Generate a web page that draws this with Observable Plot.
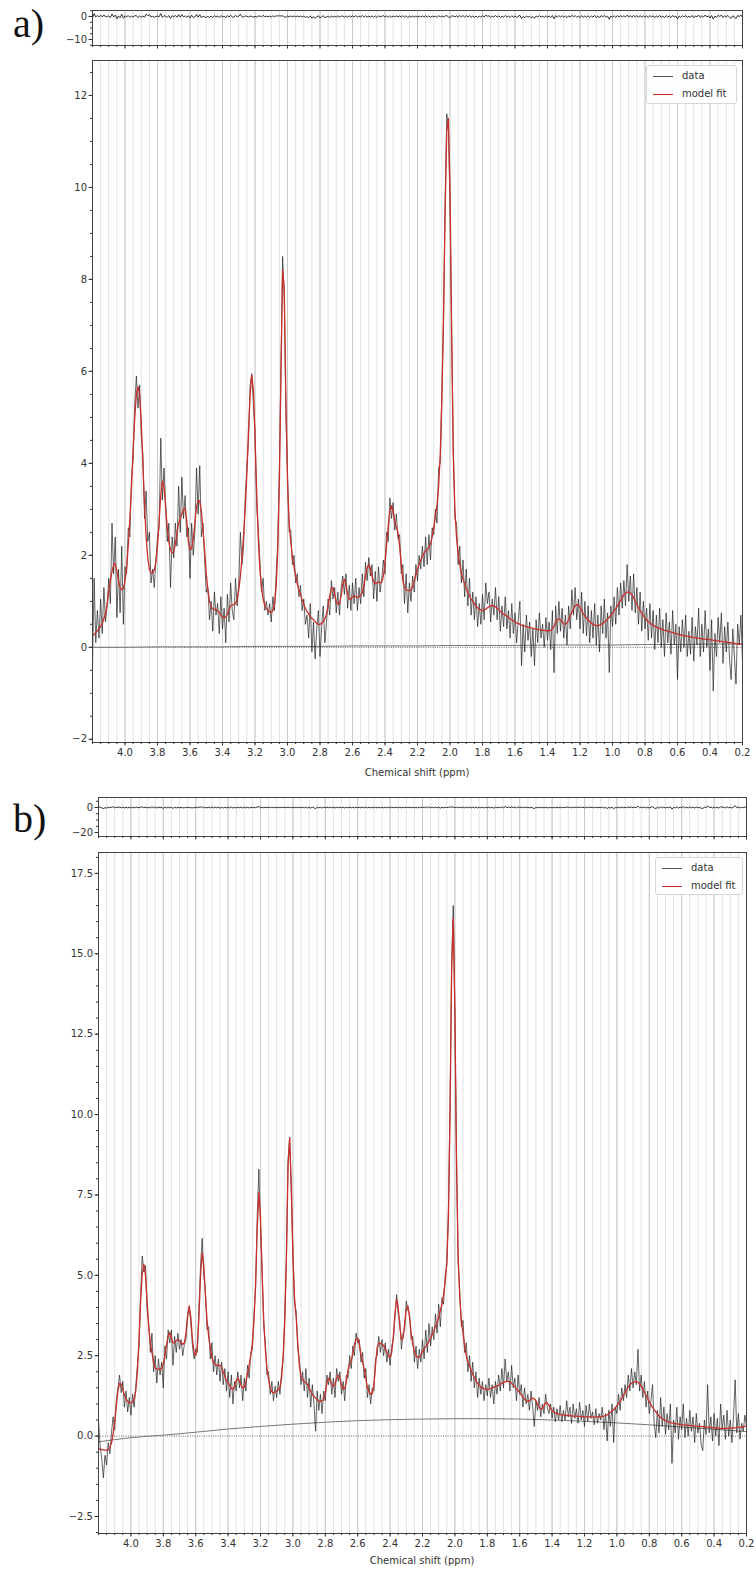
<!DOCTYPE html>
<html><head><meta charset="utf-8">
<script src="https://cdn.jsdelivr.net/npm/d3@7"></script>
<script src="https://cdn.jsdelivr.net/npm/@observablehq/plot@0.6"></script>
<style>
body{margin:0;background:#fff;}
#root{position:relative;width:756px;height:1569px;overflow:hidden;font-family:"DejaVu Sans",sans-serif;background:#fff;}
.abs{position:absolute;}
.plabel{font-family:"Liberation Serif","Times New Roman",serif;font-size:40px;line-height:40px;color:#111;}
.xtitle{font-size:10px;line-height:14px;color:#333;text-align:center;width:300px;}
.legend{box-sizing:border-box;border:1px solid #d6d6d6;border-radius:3px;background:rgba(255,255,255,0.9);font-size:10px;color:#333;}
.legend .ln{position:absolute;height:0;width:20px;}
.legend .tx{position:absolute;line-height:12px;}
</style></head>
<body><div id="root"></div>
<script>
// ---- grids (ppm axis, 4.20 -> 0.20) ----
const ppm = d3.range(401).map(i => (420 - i) / 100);
const basePpm = d3.range(21).map(i => (420 - i * 20) / 100);
const xMajor = [4.0,3.8,3.6,3.4,3.2,3.0,2.8,2.6,2.4,2.2,2.0,1.8,1.6,1.4,1.2,1.0,0.8,0.6,0.4,0.2];
const xMinor = d3.range(81).map(i => (420 - i * 5) / 100);

// ---- panel a ----
const fitA = [
0.25,0.28,0.32,0.36,0.40,0.45,0.52,0.62,0.75,0.95,
1.20,1.45,1.65,1.80,1.82,1.65,1.45,1.30,1.25,1.28,
1.45,1.75,2.20,2.80,3.50,4.30,5.00,5.50,5.67,5.50,
4.90,4.00,3.10,2.40,1.95,1.70,1.62,1.62,1.68,1.85,
2.20,2.75,3.30,3.62,3.50,3.05,2.60,2.30,2.12,2.05,
2.08,2.25,2.50,2.70,2.80,2.90,3.00,3.02,2.75,2.30,
2.12,2.15,2.35,2.70,3.05,3.20,3.18,2.95,2.55,2.10,
1.60,1.25,1.00,0.88,0.84,0.82,0.82,0.80,0.76,0.70,
0.66,0.64,0.66,0.72,0.82,0.90,0.92,0.93,0.95,1.05,
1.25,1.55,1.95,2.45,3.05,3.80,4.70,5.50,5.92,5.60,
4.60,3.40,2.40,1.70,1.30,1.05,0.92,0.84,0.80,0.77,
0.76,0.80,0.95,1.30,2.10,3.60,6.00,8.20,7.80,5.40,
3.60,2.70,2.30,1.95,1.75,1.55,1.38,1.25,1.15,1.03,
0.93,0.85,0.78,0.72,0.67,0.63,0.60,0.56,0.52,0.50,
0.50,0.52,0.56,0.62,0.72,0.90,1.12,1.28,1.30,1.15,
1.00,0.93,0.95,1.12,1.38,1.48,1.35,1.15,1.05,1.05,
1.10,1.12,1.10,1.08,1.10,1.13,1.18,1.35,1.55,1.72,
1.80,1.72,1.55,1.42,1.38,1.40,1.42,1.40,1.42,1.55,
1.85,2.25,2.65,2.95,3.08,2.95,2.75,2.60,2.50,2.20,
1.80,1.45,1.30,1.25,1.24,1.23,1.25,1.32,1.45,1.58,
1.70,1.80,1.90,1.98,2.05,2.10,2.13,2.17,2.25,2.40,
2.60,2.85,3.10,3.50,4.20,5.40,7.20,9.50,11.20,11.50,
10.00,6.80,4.20,3.00,2.40,2.05,1.80,1.62,1.48,1.38,
1.28,1.20,1.12,1.05,1.00,0.95,0.90,0.86,0.83,0.81,
0.80,0.81,0.83,0.86,0.88,0.90,0.91,0.90,0.88,0.85,
0.82,0.78,0.74,0.72,0.70,0.68,0.65,0.62,0.60,0.57,
0.55,0.53,0.52,0.50,0.48,0.47,0.46,0.45,0.44,0.43,
0.42,0.41,0.40,0.40,0.39,0.38,0.38,0.37,0.37,0.36,
0.36,0.36,0.37,0.40,0.46,0.54,0.60,0.62,0.60,0.55,
0.51,0.50,0.53,0.60,0.68,0.76,0.84,0.90,0.93,0.92,
0.87,0.80,0.73,0.68,0.64,0.60,0.56,0.52,0.50,0.48,
0.47,0.47,0.48,0.50,0.52,0.55,0.58,0.62,0.66,0.70,
0.74,0.79,0.84,0.90,0.96,1.02,1.08,1.14,1.18,1.20,
1.20,1.18,1.14,1.08,1.00,0.93,0.86,0.80,0.74,0.69,
0.64,0.60,0.56,0.53,0.50,0.48,0.46,0.44,0.42,0.41,
0.40,0.38,0.37,0.36,0.35,0.34,0.33,0.32,0.31,0.30,
0.29,0.28,0.27,0.26,0.25,0.25,0.24,0.23,0.23,0.22,
0.21,0.21,0.20,0.20,0.19,0.19,0.18,0.18,0.17,0.17,
0.16,0.16,0.15,0.15,0.14,0.14,0.13,0.13,0.12,0.12,
0.11,0.11,0.10,0.10,0.09,0.09,0.08,0.08,0.07,0.07,
0.06];
const dataA = [
-0.40,1.50,0.10,0.80,0.20,1.05,0.30,1.30,0.55,0.90,
1.50,0.95,2.70,1.60,2.40,0.65,1.70,0.75,2.20,0.50,
1.75,1.60,2.60,2.40,3.70,4.10,5.30,5.90,5.20,5.70,
4.60,4.20,2.80,3.40,2.30,2.50,1.40,1.70,1.30,1.90,
2.40,2.60,4.55,3.20,3.90,3.10,2.30,2.70,1.30,2.40,
1.95,2.70,2.20,3.50,2.50,3.70,2.80,3.30,2.40,2.60,
1.50,2.70,2.00,2.50,3.90,2.90,3.95,2.40,2.70,1.90,
1.20,1.30,0.60,1.00,0.35,1.20,0.70,0.95,0.30,1.10,
0.40,0.85,0.10,1.15,0.55,1.40,0.80,0.60,1.50,0.90,
1.40,2.50,1.80,2.20,3.30,3.90,4.50,5.70,5.95,5.30,
4.70,3.10,2.60,1.90,1.20,1.50,0.80,1.00,0.70,0.95,
0.55,1.10,0.80,1.60,2.30,3.90,6.20,8.50,7.60,5.10,
3.80,2.50,2.55,1.80,2.00,1.40,1.60,1.10,1.35,0.80,
1.05,0.50,0.70,0.20,0.95,-0.10,0.55,-0.25,0.40,0.80,
-0.20,0.45,0.90,0.10,0.55,1.05,0.70,1.45,1.05,1.30,
0.75,1.20,0.70,1.30,1.55,1.15,1.60,0.85,1.35,0.80,
1.40,0.95,1.50,0.80,1.30,0.95,1.60,1.10,1.85,1.45,
1.95,1.55,1.80,1.05,1.65,1.00,1.75,1.20,1.50,1.90,
1.60,2.50,2.30,3.25,2.80,3.15,2.55,2.90,2.35,2.45,
1.60,1.80,0.95,1.60,0.75,1.40,1.00,1.55,1.20,1.80,
1.45,2.00,1.70,2.20,1.75,2.40,1.80,2.45,1.90,2.60,
2.45,3.00,2.70,3.90,4.00,5.60,7.00,9.70,11.60,11.30,
9.60,7.00,4.40,2.80,2.70,1.80,2.20,1.40,1.90,1.10,
1.70,0.90,1.50,0.70,1.20,0.60,1.10,0.45,0.95,0.50,
1.15,0.60,1.40,0.95,1.20,0.55,1.05,0.70,1.30,0.60,
1.10,0.35,0.90,0.45,1.10,0.40,0.80,0.20,0.95,0.30,
0.75,0.10,0.60,1.00,-0.40,0.50,-0.10,0.70,0.15,0.55,
-0.20,0.40,-0.40,0.60,0.10,0.75,0.20,0.50,0.00,0.65,
0.15,0.55,-0.05,0.80,-0.55,0.90,0.30,1.00,0.35,0.85,
0.20,0.70,0.05,0.90,0.40,1.25,0.70,1.30,0.60,1.05,
0.40,1.20,0.30,1.00,0.25,0.90,0.10,0.80,0.20,0.95,
0.05,0.70,-0.10,0.90,0.30,1.05,0.20,0.75,-0.55,0.90,
0.45,1.10,0.50,1.30,0.70,1.40,0.85,1.45,0.90,1.80,
1.00,1.55,0.80,1.60,0.75,1.30,0.50,1.20,0.35,1.00,
0.40,0.85,0.15,0.95,0.20,0.80,-0.05,0.70,0.10,0.85,
0.00,0.60,-0.20,0.75,0.10,0.55,-0.15,0.80,0.05,0.50,
-0.70,0.45,-0.10,0.60,0.00,0.70,-0.20,0.35,-0.15,0.65,
-0.30,0.45,0.05,0.85,-0.20,0.50,-0.10,0.80,0.00,0.40,
-0.50,0.60,-0.95,0.30,-0.20,0.65,0.10,0.75,-0.35,0.45,
-0.10,0.55,-0.25,-0.70,0.40,-0.20,-0.80,0.50,0.05,0.70,
-0.30];
const baseA = [0.00,0.00,0.01,0.01,0.01,0.02,0.02,0.02,0.03,0.03,0.03,0.04,0.04,0.04,0.05,0.05,0.05,0.06,0.06,0.07,0.07];

// ---- panel b ----
const fitB = [
-0.40,-0.41,-0.42,-0.43,-0.44,-0.44,-0.42,-0.35,-0.22,0.05,
0.45,0.95,1.40,1.64,1.62,1.45,1.28,1.15,1.08,1.04,
1.03,1.06,1.15,1.40,2.00,3.00,4.20,5.05,5.35,5.00,
4.20,3.40,2.90,2.60,2.30,2.12,2.08,2.08,2.08,2.10,
2.25,2.50,2.85,3.12,3.22,3.05,2.90,2.90,2.98,3.00,
2.98,2.90,2.85,2.90,3.20,3.70,4.05,3.70,3.00,2.60,
2.50,2.80,3.70,5.00,5.70,5.30,4.40,3.60,3.10,2.75,
2.45,2.28,2.22,2.20,2.20,2.20,2.15,2.00,1.85,1.72,
1.65,1.58,1.48,1.45,1.55,1.72,1.80,1.72,1.58,1.50,
1.52,1.70,1.95,2.20,2.50,2.90,3.60,4.80,6.50,7.58,
6.80,5.00,3.60,2.70,2.10,1.75,1.50,1.38,1.34,1.36,
1.40,1.44,1.50,1.80,2.50,3.60,5.60,8.40,9.27,7.80,
5.60,4.30,3.70,2.90,2.20,1.86,1.75,1.70,1.66,1.60,
1.50,1.40,1.30,1.24,1.18,1.12,1.09,1.08,1.10,1.14,
1.35,1.65,1.80,1.75,1.60,1.54,1.62,1.80,1.90,1.80,
1.58,1.45,1.48,1.70,2.05,2.25,2.35,2.55,2.85,3.02,
3.05,2.85,2.55,2.30,2.10,1.80,1.50,1.38,1.30,1.32,
1.60,2.20,2.75,2.90,2.88,2.85,2.82,2.72,2.60,2.48,
2.45,2.60,3.10,3.80,4.26,4.00,3.40,3.00,3.05,3.50,
3.95,4.05,3.70,3.20,2.87,2.62,2.50,2.45,2.45,2.52,
2.62,2.72,2.78,2.85,2.95,3.05,3.15,3.27,3.40,3.55,
3.70,3.90,4.10,4.40,4.80,5.40,6.80,10.00,14.50,16.10,
13.20,8.50,5.60,4.30,3.60,3.20,2.80,2.50,2.30,2.20,
2.05,1.92,1.82,1.72,1.64,1.58,1.53,1.50,1.47,1.46,
1.45,1.46,1.48,1.50,1.52,1.54,1.56,1.58,1.61,1.64,
1.67,1.69,1.70,1.70,1.68,1.64,1.59,1.53,1.47,1.41,
1.35,1.28,1.21,1.15,1.10,1.08,1.10,1.15,1.18,1.16,
1.10,1.00,0.90,0.84,0.86,0.95,1.04,1.03,0.96,0.88,
0.80,0.75,0.72,0.70,0.68,0.67,0.66,0.65,0.65,0.64,
0.64,0.63,0.63,0.62,0.62,0.62,0.61,0.61,0.61,0.60,
0.60,0.60,0.60,0.60,0.60,0.60,0.60,0.60,0.60,0.60,
0.60,0.61,0.62,0.64,0.66,0.69,0.73,0.77,0.82,0.88,
0.95,1.02,1.09,1.17,1.26,1.35,1.44,1.52,1.59,1.64,
1.67,1.69,1.69,1.67,1.62,1.55,1.46,1.37,1.27,1.17,
1.07,0.98,0.89,0.82,0.75,0.69,0.63,0.58,0.54,0.51,
0.48,0.46,0.44,0.42,0.41,0.40,0.39,0.38,0.37,0.36,
0.35,0.35,0.34,0.34,0.33,0.33,0.32,0.32,0.31,0.31,
0.30,0.30,0.30,0.29,0.29,0.28,0.28,0.27,0.27,0.26,
0.26,0.25,0.25,0.25,0.24,0.24,0.24,0.24,0.24,0.24,
0.25,0.25,0.25,0.26,0.26,0.27,0.27,0.28,0.29,0.30,
0.32];
const dataB = [
0.50,-0.30,-0.70,-1.30,-0.60,-0.90,-0.20,-0.55,0.10,0.60,
0.20,1.10,1.50,1.90,1.35,1.70,0.90,1.40,0.75,1.20,
0.65,1.30,0.90,1.55,2.20,2.80,4.40,5.60,5.10,5.30,
3.90,3.50,2.60,3.20,2.00,2.50,1.65,2.40,1.90,2.30,
1.50,2.80,2.40,3.30,2.90,3.30,2.20,3.10,2.60,3.20,
2.70,3.00,2.50,2.85,3.00,3.80,4.00,3.50,2.80,2.40,
2.70,2.60,4.00,5.30,6.15,5.00,4.50,3.30,3.40,2.40,
2.90,2.00,2.50,1.90,2.40,1.70,2.30,1.60,2.10,1.40,
2.00,1.20,1.90,1.00,1.70,1.40,2.00,1.50,1.90,1.10,
1.80,1.40,2.20,1.80,2.60,2.70,3.80,4.60,6.90,8.30,
6.50,5.20,3.40,2.90,1.90,2.00,1.30,1.70,1.10,1.55,
1.20,1.70,1.30,2.00,2.40,3.80,5.40,8.60,9.30,7.60,
5.80,4.10,3.90,2.70,2.40,1.60,2.00,1.40,2.10,1.20,
1.80,0.90,1.60,1.00,0.15,1.40,0.80,1.30,0.70,1.40,
1.10,1.90,1.60,2.00,1.30,1.80,1.20,2.10,1.70,2.00,
1.30,1.70,1.10,1.90,1.80,2.50,2.10,2.80,2.50,3.20,
2.90,3.00,2.30,2.60,1.80,2.10,1.20,1.60,1.00,1.50,
1.40,2.40,2.50,3.10,2.60,3.00,2.50,2.90,2.30,2.70,
2.20,2.80,3.00,3.70,4.40,3.80,3.60,2.70,3.20,3.30,
4.20,3.90,3.80,3.00,3.10,2.30,2.80,2.10,2.70,2.30,
3.00,2.40,3.30,2.60,3.50,2.80,3.40,3.00,3.80,3.20,
4.10,3.40,4.30,4.10,5.00,5.30,7.00,10.40,14.80,16.50,
13.00,8.70,5.40,4.50,3.40,3.60,2.60,2.90,2.00,2.50,
1.70,2.30,1.50,2.00,1.20,1.80,1.30,1.70,1.10,1.60,
1.25,1.80,1.20,1.60,1.00,1.70,1.30,1.90,1.40,2.10,
1.50,2.40,1.70,2.00,1.40,2.20,1.50,1.80,1.10,1.90,
1.30,1.60,0.90,1.50,1.00,1.30,0.80,1.40,0.90,0.30,
1.10,0.80,1.20,0.60,1.00,0.70,1.30,0.90,0.70,1.00,
0.55,0.90,0.45,0.85,0.50,0.95,0.45,0.80,0.50,1.10,
0.60,0.90,0.40,1.00,0.55,0.85,0.40,1.05,0.50,0.80,
0.30,0.95,0.45,1.00,0.55,0.75,0.35,0.85,0.40,0.70,
0.50,0.90,0.20,0.70,-0.15,0.80,0.30,1.00,-0.20,0.90,
0.70,1.30,0.80,1.50,1.10,1.60,1.20,1.90,1.40,2.10,
1.50,2.00,1.60,2.70,1.40,1.90,1.20,1.70,0.90,1.40,
0.70,1.10,1.60,0.40,-0.05,0.80,0.10,1.20,0.30,0.90,
0.05,0.70,0.20,1.00,-0.85,0.50,0.10,0.90,-0.10,0.60,
0.20,1.00,-0.05,0.55,0.00,0.80,0.15,0.60,-0.20,0.70,
0.10,0.40,-0.25,-0.45,0.50,0.05,1.60,0.10,0.60,-0.15,
0.70,0.00,0.55,-0.30,1.00,0.20,0.65,-0.10,0.80,0.00,
0.50,-0.20,0.60,1.75,0.10,0.70,-0.10,0.40,0.15,0.65,
0.30];
const baseB = [-0.18,-0.05,0.03,0.12,0.22,0.30,0.37,0.43,0.48,0.51,0.53,0.54,0.54,0.53,0.50,0.46,0.41,0.35,0.28,0.21,0.14];

// ---- tick labels ----
const yTicksA = [-2,0,2,4,6,8,10,12];
const yMinorA = d3.range(-4, 26).map(i => i / 2);
const yTicksB = [-2.5,0,2.5,5,7.5,10,12.5,15,17.5];
const yMinorB = d3.range(-6, 37).map(i => i / 2);
const resTicksA = [0, -10];
const resMinorA = [-12.5,-10,-7.5,-5,-2.5,0,2.5];
const resTicksB = [0, -20];
const resMinorB = [-20,-15,-10,-5,0,5];

const DATA_COLOR = "#1c1c1c";
const FIT_COLOR = "#c9302c";
const root = document.getElementById("root");
const baseStyle = {fontFamily: "'DejaVu Sans', sans-serif", fontSize: "10px", color: "#333", background: "transparent", overflow: "visible"};

function place(node, top) {
  const w = document.createElement("div");
  w.className = "abs"; w.style.left = "0px"; w.style.top = top + "px";
  w.appendChild(node); root.appendChild(w);
}

function gridMarks() {
  return [
    Plot.ruleX(xMinor, {stroke: "#e3e3e3", strokeWidth: 1}),
    Plot.ruleX(xMajor, {stroke: "#c9c9c9", strokeWidth: 1})
  ];
}

function residualPanel({data, fit, yDomain, yTicks, yMinor, left, right, top, bottom, height}) {
  const rows = ppm.map((x, i) => ({x, r: data[i] - fit[i]}));
  return Plot.plot({
    width: 756, height, marginLeft: left, marginRight: right, marginTop: top, marginBottom: bottom,
    style: baseStyle,
    x: {domain: [4.2, 0.2]},
    y: {domain: yDomain},
    marks: [
      ...gridMarks(),
      Plot.line(rows, {x: "x", y: "r", stroke: DATA_COLOR, strokeWidth: 0.9}),
      Plot.frame({stroke: "#444"}),
      Plot.axisX({ticks: xMinor, tickSize: 2, tickFormat: () => "", label: null}),
      Plot.axisX({ticks: xMajor, tickSize: 3.5, tickFormat: () => "", label: null}),
      Plot.axisY({ticks: yMinor, tickSize: 2, tickFormat: () => "", label: null}),
      Plot.axisY({ticks: yTicks, tickSize: 3.5, tickPadding: 2, tickFormat: d3.format("d"), label: null})
    ]
  });
}

function mainPanel({data, fit, base, yDomain, yTicks, yMinor, yFormat, left, right, top, bottom, height}) {
  const rows = ppm.map((x, i) => ({x, d: data[i], f: fit[i]}));
  const brows = basePpm.map((x, i) => ({x, b: base[i]}));
  return Plot.plot({
    width: 756, height, marginLeft: left, marginRight: right, marginTop: top, marginBottom: bottom,
    style: baseStyle,
    x: {domain: [4.2, 0.2]},
    y: {domain: yDomain},
    marks: [
      ...gridMarks(),
      Plot.ruleY([0], {stroke: "#666", strokeWidth: 1, strokeDasharray: "1,1.3"}),
      Plot.line(brows, {x: "x", y: "b", stroke: "#777", strokeWidth: 1, curve: "natural"}),
      Plot.line(rows, {x: "x", y: "d", stroke: DATA_COLOR, strokeWidth: 0.8, strokeOpacity: 0.85, clip: true}),
      Plot.line(rows, {x: "x", y: "f", stroke: FIT_COLOR, strokeWidth: 1.3, clip: true}),
      Plot.frame({stroke: "#444"}),
      Plot.axisX({ticks: xMinor, tickSize: 2, tickFormat: () => "", label: null}),
      Plot.axisX({ticks: xMajor, tickSize: 3.5, tickPadding: 3, tickFormat: d => d.toFixed(1), label: null}),
      Plot.axisY({ticks: yMinor, tickSize: 2, tickFormat: () => "", label: null}),
      Plot.axisY({ticks: yTicks, tickSize: 3.5, tickPadding: 2, tickFormat: yFormat, label: null})
    ]
  });
}

// panel a
place(residualPanel({data: dataA, fit: fitA, yDomain: [-12.6, 2.6], yTicks: resTicksA, yMinor: resMinorA,
  left: 92, right: 14, top: 10, bottom: 5, height: 50}), 0);
place(mainPanel({data: dataA, fit: fitA, base: baseA, yDomain: [-2.07, 12.76], yTicks: yTicksA, yMinor: yMinorA,
  yFormat: d3.format("d"), left: 92, right: 14, top: 10, bottom: 25, height: 717}), 50);

// panel b
place(residualPanel({data: dataB, fit: fitB, yDomain: [-23.2, 8], yTicks: resTicksB, yMinor: resMinorB,
  left: 98, right: 10, top: 10, bottom: 6, height: 55}), 787);
place(mainPanel({data: dataB, fit: fitB, base: baseB, yDomain: [-3.03, 18.15], yTicks: yTicksB, yMinor: yMinorB,
  yFormat: d3.format(".1f"), left: 98, right: 10, top: 10, bottom: 25, height: 716}), 842);

// text overlays
function addDiv(cls, text, left, top, extra) {
  const d = document.createElement("div");
  d.className = "abs " + cls; d.textContent = text;
  d.style.left = left + "px"; d.style.top = top + "px";
  if (extra) Object.assign(d.style, extra);
  root.appendChild(d); return d;
}
addDiv("plabel", "a)", 13, 4);
addDiv("plabel", "b)", 13, 799);
addDiv("xtitle", "Chemical shift (ppm)", 417 - 150, 766);
addDiv("xtitle", "Chemical shift (ppm)", 422 - 150, 1554);

function legend(left, top, w, h) {
  const box = document.createElement("div");
  box.className = "abs legend";
  Object.assign(box.style, {left: left + "px", top: top + "px", width: w + "px", height: h + "px"});
  const items = [["data", "#555", 1], ["model fit", FIT_COLOR, 1.4]];
  items.forEach(([label, color, sw], k) => {
    const ln = document.createElement("div");
    ln.className = "ln";
    Object.assign(ln.style, {left: "6px", top: (10 + k * 18) + "px", borderTop: sw + "px solid " + color});
    box.appendChild(ln);
    const tx = document.createElement("div");
    tx.className = "tx"; tx.textContent = label;
    Object.assign(tx.style, {left: "35px", top: (4 + k * 18) + "px"});
    box.appendChild(tx);
  });
  root.appendChild(box);
}
legend(646, 65, 91, 39);
legend(655, 857, 88, 38);
</script></body></html>
